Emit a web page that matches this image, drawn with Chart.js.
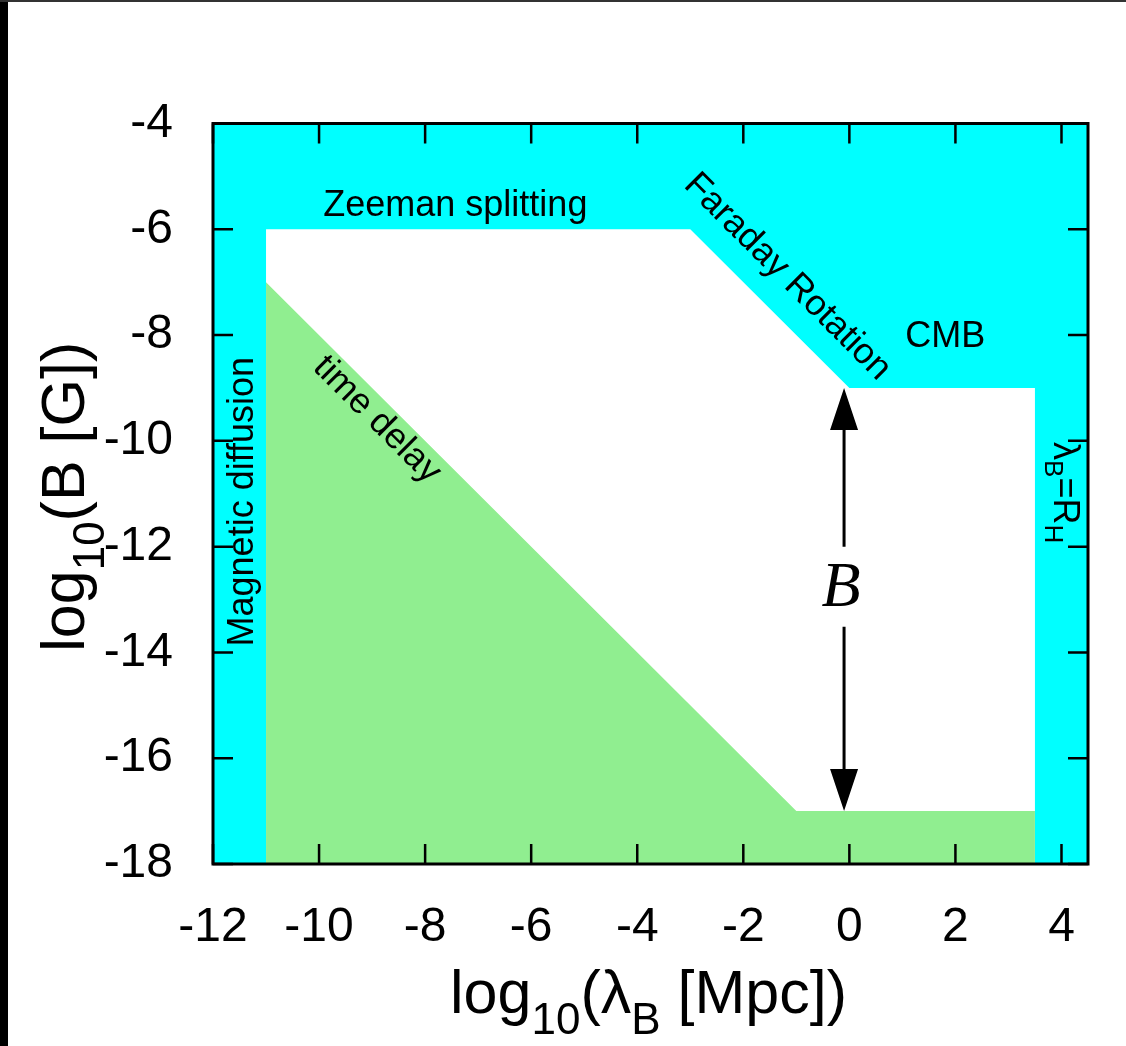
<!DOCTYPE html>
<html>
<head>
<meta charset="utf-8">
<script src="https://cdn.jsdelivr.net/npm/chart.js@4/dist/chart.umd.min.js"></script>
<style>
  html, body { margin: 0; padding: 0; background: #fff; }
  #wrap { position: relative; width: 1126px; height: 1046px; }
  #frameLeft { position: absolute; left: 0; top: 0; width: 8px; height: 1046px; background: #000; }
  #frameTop { position: absolute; left: 0; top: 0; width: 1126px; height: 2px; background: #333; }
</style>
</head>
<body>
<div id="wrap">
  <canvas id="chart" width="1126" height="1046"></canvas>
  <div id="frameLeft"></div>
  <div id="frameTop"></div>
</div>
<script>
// Axis ranges and tick positions (log10 units)
const xRange = [-12, 4.5];
const yRange = [-18, -4];
const xTicks = [-12, -10, -8, -6, -4, -2, 0, 2, 4];
const yTicks = [-18, -16, -14, -12, -10, -8, -6, -4];

// Region excluded by observations: covers the whole plane
const excludedX = [-12, 4.5];
const excludedY = [-4, -4];

// Upper edge of the allowed window: Zeeman splitting, Faraday rotation, CMB
// bounded left by magnetic diffusion and right by the Hubble radius
const allowedTopX = [-11, -3, 0, 3.5];
const allowedTopY = [-6, -6, -9, -9];

// Upper edge of the time-delay region
const timeDelayX = [-11, -1, 3.5];
const timeDelayY = [-7, -17, -17];

// Double arrow marking the probed field strength range
const arrowX = -0.1;
const arrowFromY = -9;
const arrowToY = -17;
const arrowLabelY = -12.76;

const toPoints = (xs, ys) => xs.map((x, i) => ({ x, y: ys[i] }));

const SANS = '"Liberation Sans", Arial, Helvetica, sans-serif';
const SERIF = '"Liberation Serif", "Times New Roman", serif';

// Region labels: [text parts, x, y, rotation (deg), baseline]
const regionLabels = [
  { parts: [['Zeeman splitting', 0]], x: -7.43, y: -5.75, rot: 0, base: 'alphabetic' },
  { parts: [['Faraday Rotation', 0]], x: -1.17, y: -6.90, rot: 45, base: 'middle' },
  { parts: [['CMB', 0]], x: 1.81, y: -8.04, rot: 0, base: 'middle' },
  { parts: [['time delay', 0]], x: -8.91, y: -9.60, rot: 45, base: 'middle' },
  { parts: [['Magnetic diffusion', 0]], x: -11.25, y: -11.15, rot: -90, base: 'alphabetic' },
  { parts: [['λ', 0], ['B', 1], ['=R', 0], ['H', 1]], x: 3.85, y: -10.98, rot: 90, base: 'alphabetic' }
];

// Draws text made of normal and subscript parts, centred on x
function drawRich(ctx, parts, x, y, size, subSize, subShift, baseline) {
  const fonts = [size + 'px ' + SANS, subSize + 'px ' + SANS];
  let total = 0;
  const widths = parts.map(([t, s]) => {
    ctx.font = fonts[s];
    const w = ctx.measureText(t).width;
    total += w;
    return w;
  });
  let cx = x - total / 2;
  ctx.textAlign = 'left';
  ctx.textBaseline = baseline;
  parts.forEach(([t, s], i) => {
    ctx.font = fonts[s];
    ctx.fillText(t, cx, y + (s ? subShift : 0));
    cx += widths[i];
  });
}

const decorations = {
  id: 'decorations',
  afterDraw(chart) {
    const { ctx, chartArea: a, scales: { x, y } } = chart;
    ctx.save();
    ctx.fillStyle = '#000';
    ctx.strokeStyle = '#000';

    // Inward tick marks on all four sides
    ctx.lineWidth = 2.5;
    const tl = 20;
    ctx.beginPath();
    xTicks.forEach(v => {
      const px = x.getPixelForValue(v);
      ctx.moveTo(px, a.bottom); ctx.lineTo(px, a.bottom - tl);
      ctx.moveTo(px, a.top); ctx.lineTo(px, a.top + tl);
    });
    yTicks.forEach(v => {
      const py = y.getPixelForValue(v);
      ctx.moveTo(a.left, py); ctx.lineTo(a.left + tl, py);
      ctx.moveTo(a.right, py); ctx.lineTo(a.right - tl, py);
    });
    ctx.stroke();

    // Plot frame
    ctx.lineWidth = 3;
    ctx.strokeRect(a.left, a.top, a.right - a.left, a.bottom - a.top);

    // Region labels
    regionLabels.forEach(l => {
      ctx.save();
      ctx.translate(x.getPixelForValue(l.x), y.getPixelForValue(l.y));
      ctx.rotate(l.rot * Math.PI / 180);
      drawRich(ctx, l.parts, 0, 0, 36, 26, 9, l.base);
      ctx.restore();
    });

    // Double arrow with the B label in the gap
    const ax = x.getPixelForValue(arrowX);
    const yTop = y.getPixelForValue(arrowFromY);
    const yBot = y.getPixelForValue(arrowToY);
    const yMid = y.getPixelForValue(arrowLabelY);
    const head = 42, half = 14, gap = 40;
    ctx.lineWidth = 3;
    ctx.beginPath();
    ctx.moveTo(ax, yTop + head - 2); ctx.lineTo(ax, yMid - gap);
    ctx.moveTo(ax, yMid + gap); ctx.lineTo(ax, yBot - head + 2);
    ctx.stroke();
    ctx.beginPath();
    ctx.moveTo(ax, yTop); ctx.lineTo(ax - half, yTop + head); ctx.lineTo(ax + half, yTop + head); ctx.closePath();
    ctx.moveTo(ax, yBot); ctx.lineTo(ax - half, yBot - head); ctx.lineTo(ax + half, yBot - head); ctx.closePath();
    ctx.fill();
    ctx.font = 'italic 64px ' + SERIF;
    ctx.textAlign = 'center';
    ctx.textBaseline = 'middle';
    ctx.fillText('B', ax - 3, yMid + 2);

    // Axis titles
    drawRich(ctx, [['log', 0], ['10', 1], ['(λ', 0], ['B', 1], [' [Mpc])', 0]],
      (a.left + a.right) / 2 - 2, 1013, 61, 44, 21, 'alphabetic');
    ctx.save();
    ctx.translate(84, (a.top + a.bottom) / 2 + 3);
    ctx.rotate(-Math.PI / 2);
    drawRich(ctx, [['log', 0], ['10', 1], ['(B [G])', 0]], 0, 0, 61, 44, 20, 'alphabetic');
    ctx.restore();

    ctx.restore();
  }
};

new Chart(document.getElementById('chart'), {
  type: 'line',
  data: {
    datasets: [
      {
        label: 'time delay',
        data: toPoints(timeDelayX, timeDelayY),
        backgroundColor: '#90EE90',
        borderWidth: 0,
        pointRadius: 0,
        fill: 'start'
      },
      {
        label: 'allowed',
        data: toPoints(allowedTopX, allowedTopY),
        backgroundColor: '#FFFFFF',
        borderWidth: 0,
        pointRadius: 0,
        fill: 'start'
      },
      {
        label: 'excluded',
        data: toPoints(excludedX, excludedY),
        backgroundColor: '#00FFFF',
        borderWidth: 0,
        pointRadius: 0,
        fill: 'start'
      }
    ]
  },
  options: {
    responsive: false,
    animation: false,
    events: [],
    layout: { padding: { top: 123.5, right: 38, left: 0, bottom: 0 } },
    plugins: { legend: { display: false }, tooltip: { enabled: false } },
    scales: {
      x: {
        type: 'linear',
        min: xRange[0],
        max: xRange[1],
        grid: { display: false, drawTicks: false },
        border: { display: false },
        afterBuildTicks: s => { s.ticks = xTicks.map(v => ({ value: v })); },
        afterFit: s => { s.height = 182; },
        ticks: {
          color: '#000',
          padding: 35,
          maxRotation: 0,
          autoSkip: false,
          font: { family: SANS, size: 48 },
          callback: v => String(v)
        }
      },
      y: {
        type: 'linear',
        min: yRange[0],
        max: yRange[1],
        grid: { display: false, drawTicks: false },
        border: { display: false },
        afterBuildTicks: s => { s.ticks = yTicks.map(v => ({ value: v })); },
        afterFit: s => { s.width = 213; },
        ticks: {
          color: '#000',
          padding: 40,
          autoSkip: false,
          font: { family: SANS, size: 48 },
          callback: v => String(v)
        }
      }
    }
  },
  plugins: [decorations]
});
</script>
</body>
</html>
